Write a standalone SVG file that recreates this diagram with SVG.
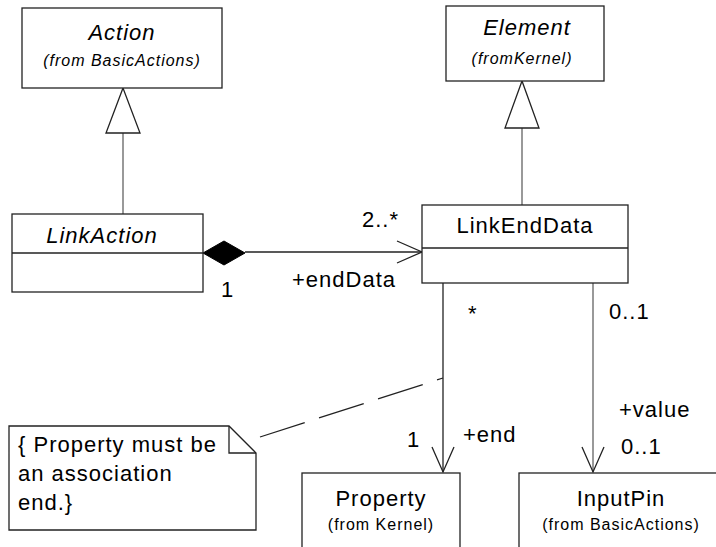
<svg xmlns="http://www.w3.org/2000/svg" width="716" height="547" viewBox="0 0 716 547">
<style>
text{font-family:"Liberation Sans",Arial,sans-serif;fill:#000;letter-spacing:1px}
.t{font-size:22px}
.s{font-size:16px}
.i{font-style:italic}
.m{text-anchor:middle}
.box{fill:#fff;stroke:#222;stroke-width:1.3}
.ln{fill:none;stroke:#222;stroke-width:1.3}
.g{fill:none;stroke:#777;stroke-width:1.5}
.tri{fill:#fff;stroke:#222;stroke-width:1.3}
</style>
<rect width="716" height="547" fill="#fff"/>
<g id="connectors">
  <!-- generalization LinkAction -> Action -->
  <line class="g" x1="123" y1="133" x2="123" y2="214"/>
  <polygon class="tri" points="123,88 106,133 140,133"/>
  <!-- generalization LinkEndData -> Element -->
  <line class="g" x1="522" y1="128" x2="522" y2="205"/>
  <polygon class="tri" points="522,81 505,128 539,128"/>
  <!-- composition -->
  <line class="ln" x1="245" y1="252" x2="422" y2="252"/>
  <polygon points="203,253 224,241 245,253 224,265" fill="#000" stroke="#000"/>
  <polyline class="ln" points="397,241 422,252 397,263"/>
  <!-- LinkEndData -> Property -->
  <line class="ln" x1="443" y1="283" x2="443" y2="472"/>
  <polyline class="ln" points="432,447 443,472 454,447"/>
  <!-- LinkEndData -> InputPin -->
  <line class="g" x1="593" y1="283" x2="593" y2="472"/>
  <polyline class="ln" points="582,447 593,472 604,447"/>
  <!-- note anchor -->
  <line class="ln" x1="260" y1="437" x2="443" y2="378" stroke-dasharray="47 15"/>
</g>
<g id="Action">
  <rect class="box" x="22" y="8" width="200" height="80"/>
  <text class="t i m" x="122" y="40">Action</text>
  <text class="s i m" x="122" y="66">(from BasicActions)</text>
</g>
<g id="Element">
  <rect class="box" x="446" y="6" width="158" height="75"/>
  <text class="t i m" x="527" y="35">Element</text>
  <text class="s i m" x="522" y="64">(fromKernel)</text>
</g>
<g id="LinkAction">
  <rect class="box" x="12" y="214" width="191" height="78"/>
  <line class="ln" x1="12" y1="253" x2="203" y2="253"/>
  <text class="t i m" x="102" y="243" letter-spacing="2">LinkAction</text>
</g>
<g id="LinkEndData">
  <rect class="box" x="422" y="205" width="206" height="78"/>
  <line class="ln" x1="422" y1="248" x2="628" y2="248"/>
  <text class="t m" x="525" y="233">LinkEndData</text>
</g>
<g id="Property">
  <rect class="box" x="302" y="473" width="158" height="90"/>
  <text class="t m" x="381" y="506">Property</text>
  <text class="s m" x="381" y="530">(from Kernel)</text>
</g>
<g id="InputPin">
  <rect class="box" x="519" y="473" width="220" height="90"/>
  <text class="t m" x="621" y="506">InputPin</text>
  <text class="s m" x="621" y="530">(from BasicActions)</text>
</g>
<g id="note">
  <path class="box" d="M9,426 H229 L256,453 V530 H9 Z"/>
  <polyline class="ln" points="229,426 229,453 256,453"/>
  <text class="t" x="18" y="452">{ Property must be</text>
  <text class="t" x="18" y="481">an association</text>
  <text class="t" x="18" y="510">end.}</text>
</g>
<g id="labels">
  <text class="t" x="362" y="227" letter-spacing="3">2..*</text>
  <text class="t" x="221" y="297">1</text>
  <text class="t" x="292" y="287">+endData</text>
  <text class="t" x="468" y="321">*</text>
  <text class="t" x="609" y="319">0..1</text>
  <text class="t" x="619" y="417">+value</text>
  <text class="t" x="621" y="454">0..1</text>
  <text class="t" x="463" y="442">+end</text>
  <text class="t" x="407" y="447">1</text>
</g>
</svg>
